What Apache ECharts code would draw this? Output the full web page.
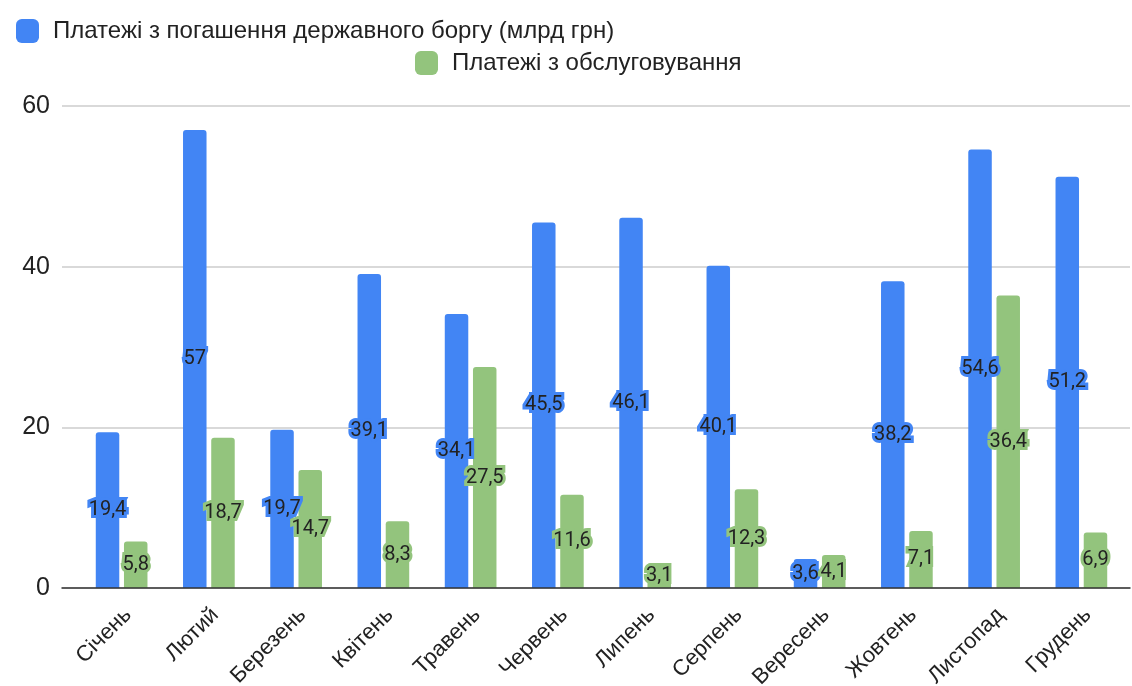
<!DOCTYPE html>
<html>
<head>
<meta charset="utf-8">
<script src="https://cdn.jsdelivr.net/npm/echarts@6/dist/echarts.min.js"></script>
<style>
html,body{margin:0;padding:0;background:#fff;}
#chart{width:1132px;height:686px;}
</style>
</head>
<body>
<div id="chart"></div>
<script>
var categories = ['Січень','Лютий','Березень','Квітень','Травень','Червень','Липень','Серпень','Вересень','Жовтень','Листопад','Грудень'];
var repayment = [19.4, 57, 19.7, 39.1, 34.1, 45.5, 46.1, 40.1, 3.6, 38.2, 54.6, 51.2];
var servicing = [5.8, 18.7, 14.7, 8.3, 27.5, 11.6, 3.1, 12.3, 4.1, 7.1, 36.4, 6.9];
var seriesNames = ['Платежі з погашення державного боргу (млрд грн)', 'Платежі з обслуговування'];
var yTicks = {min: 0, max: 60, interval: 20};

var BLUE = '#4285F4', GREEN = '#93C47D';
var chart = echarts.init(document.getElementById('chart'));
function fmt(p){ return String(p.value).replace('.', ','); }
function lbl(color){
  return {show:true, position:'inside', formatter: fmt, color:'#222', fontFamily:'Roboto', fontSize:20,
          textBorderColor: color, textBorderWidth: 6};
}
chart.setOption({
  animation:false,
  legend:[
    {data:[seriesNames[0]], left:11, top:14, itemWidth:23, itemHeight:24, itemGap:0,
     textStyle:{fontFamily:'Liberation Sans', fontSize:24, color:'#222', padding:[0,0,0,9]}},
    {data:[seriesNames[1]], left:410, top:46, itemWidth:23, itemHeight:24, itemGap:0,
     textStyle:{fontFamily:'Liberation Sans', fontSize:24, color:'#222', padding:[0,0,0,9]}}
  ],
  grid:[
    {left:62, right:2, top:106, bottom:98, outerBoundsMode:'none', containLabel:false},
    {left:78, right:7, top:106, bottom:98, outerBoundsMode:'none', containLabel:false}
  ],
  xAxis:[
    {type:'category', gridIndex:0, data:categories, axisLabel:{show:false}, axisTick:{show:false},
     axisLine:{lineStyle:{color:'#333', width:1.5}}, z:5},
    {type:'category', gridIndex:1, data:categories, axisLine:{show:false}, axisTick:{show:false},
     axisLabel:{rotate:45, margin:30, padding:[0,-9,0,0], fontFamily:'Liberation Sans', fontSize:22, color:'#222'}}
  ],
  yAxis:[
    {type:'value', gridIndex:0, min:yTicks.min, max:yTicks.max, interval:yTicks.interval,
     axisLine:{show:false}, axisTick:{show:false},
     axisLabel:{margin:12, fontFamily:'Liberation Sans', fontSize:25, color:'#222'},
     splitLine:{lineStyle:{color:'#ccc', width:1.5}}},
    {type:'value', gridIndex:1, min:yTicks.min, max:yTicks.max, interval:yTicks.interval, show:false,
     splitLine:{show:false}}
  ],
  series:[
    {name:seriesNames[0], type:'bar', xAxisIndex:1, yAxisIndex:1, data:repayment, barWidth:23.5, barGap:'20%',
     itemStyle:{color:BLUE, borderRadius:[3,3,0,0]}, label:lbl(BLUE)},
    {name:seriesNames[1], type:'bar', xAxisIndex:1, yAxisIndex:1, data:servicing, barWidth:23.5, barGap:'20%',
     itemStyle:{color:GREEN, borderRadius:[3,3,0,0]}, label:lbl(GREEN)}
  ]
});
</script>
</body>
</html>
